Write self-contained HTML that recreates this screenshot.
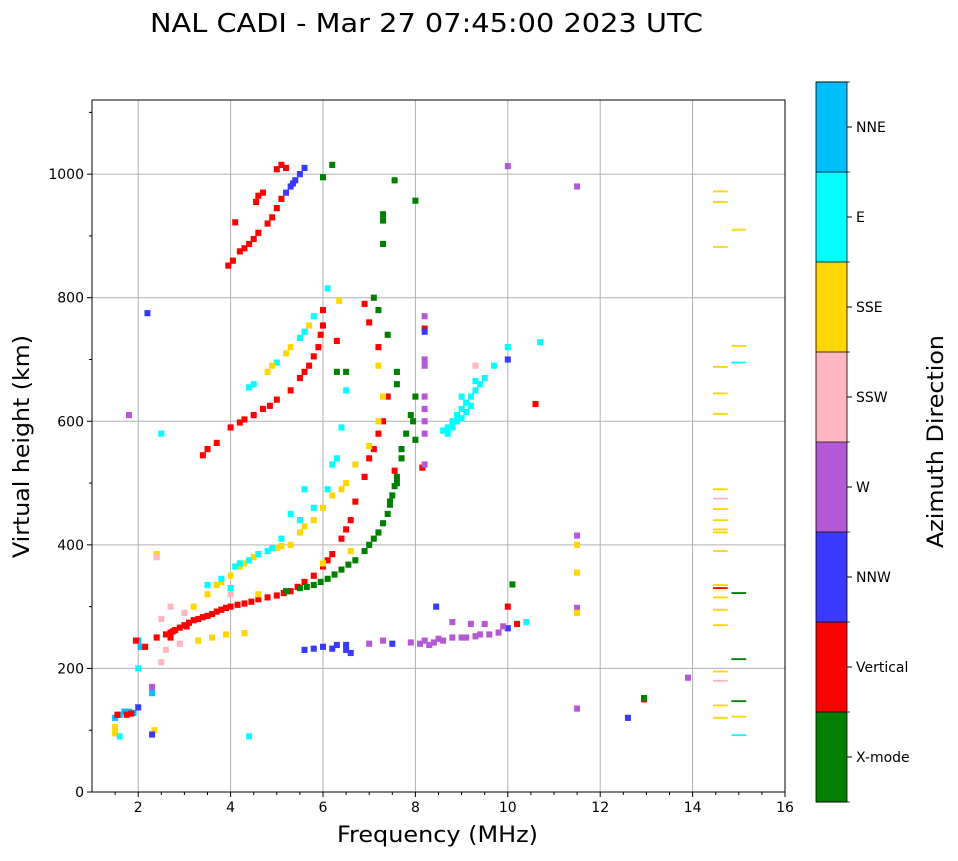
<!DOCTYPE html>
<html><head><meta charset="utf-8"><style>
body{margin:0;background:#fff;font-family:"DejaVu Sans",sans-serif;}
svg text{font-family:"DejaVu Sans","Liberation Sans",sans-serif;}
</style></head><body>
<svg id="chart" width="958" height="857" viewBox="0 0 958 857">
<text x="150" y="32" font-size="26" textLength="553" lengthAdjust="spacingAndGlyphs">NAL CADI - Mar 27 07:45:00 2023 UTC</text>
<g id="grid"></g>
<g id="marks"></g>
<rect x="92" y="100" width="693" height="692" fill="none" stroke="#000" stroke-width="1"/>
<g id="axes"></g>
<text x="337" y="842" font-size="22" textLength="201" lengthAdjust="spacingAndGlyphs">Frequency (MHz)</text>
<text transform="translate(29,558) rotate(-90)" font-size="22" textLength="223" lengthAdjust="spacingAndGlyphs">Virtual height (km)</text>
<g id="cbar"></g>
<text transform="translate(943,548) rotate(-90)" font-size="22" textLength="213" lengthAdjust="spacingAndGlyphs">Azimuth Direction</text>
</svg>
<script>
const xTicks=[2,4,6,8,10,12,14,16];
const yTicks=[0,200,400,600,800,1000];
const categories=["X-mode","Vertical","NNW","W","SSW","SSE","E","NNE"];
const catColors=["#008000","#ff0000","#3a3aff","#b459d6","#ffb6c1","#ffd700","#00ffff","#00bfff"];
// echoes: [freq MHz, height km, category index]
const echoes=[
[3.95,852,1],[4.05,860,1],[4.1,922,1],[4.2,875,1],[4.3,880,1],[4.4,887,1],[4.5,895,1],[4.6,905,1],[4.6,965,1],[4.7,970,1],[4.8,920,1],[4.9,930,1],[5.0,945,1],[5.1,960,1],[5.2,1010,1],[5.1,1015,1],[5.0,1008,1],[4.55,955,1],[5.2,970,2],[5.3,980,2],[5.4,990,2],[5.5,1000,2],[5.6,1010,2],[5.35,985,2],
[3.5,555,1],[3.7,565,1],[4.0,590,1],[4.2,598,1],[4.5,610,1],[4.7,620,1],[4.85,625,1],[5.0,635,1],[5.3,650,1],[5.5,670,1],[5.6,680,1],[5.7,690,1],[5.8,705,1],[5.9,720,1],[5.95,740,1],[6.0,755,1],[6.0,780,1],[6.3,730,1],[3.4,545,1],[4.3,603,1],
[4.5,660,6],[4.8,680,5],[5.0,695,6],[5.3,720,5],[5.5,735,6],[5.7,755,5],[5.8,770,6],[6.1,815,6],[6.35,795,5],[5.2,710,5],[4.4,655,6],[4.9,690,5],[5.6,745,6],
[2.4,250,1],[2.6,255,1],[2.7,258,1],[2.8,262,1],[2.9,266,1],[3.0,270,1],[3.1,274,1],[3.2,278,1],[3.3,280,1],[3.4,283,1],[3.5,285,1],[3.6,288,1],[3.7,292,1],[3.8,295,1],[3.9,298,1],[4.0,300,1],[4.15,303,1],[4.3,305,1],[4.45,308,1],[4.6,312,1],[4.8,315,1],[5.0,318,1],[5.15,322,1],[5.3,325,1],[5.45,332,1],[5.6,340,1],[5.8,350,1],[6.0,365,1],[6.1,375,1],[6.2,385,1],[6.4,410,1],[6.5,425,1],[6.6,440,1],[6.7,470,1],[6.9,510,1],[7.0,540,1],[7.1,555,1],[7.2,580,1],[7.3,600,1],[7.4,640,1],[7.2,720,1],[7.0,760,1],[6.9,790,1],[7.55,520,1],[8.15,525,1],[8.2,750,1],[10.6,628,1],[10.0,300,1],[10.2,272,1],[12.95,150,1],[2.75,260,1],[3.05,268,1],
[5.2,325,0],[5.5,330,0],[5.65,332,0],[5.8,335,0],[5.95,340,0],[6.1,345,0],[6.25,352,0],[6.4,360,0],[6.55,368,0],[6.7,375,0],[6.9,390,0],[7.0,400,0],[7.1,410,0],[7.2,420,0],[7.3,435,0],[7.4,450,0],[7.45,465,0],[7.5,480,0],[7.6,500,0],[7.6,510,0],[7.7,540,0],[7.7,555,0],[7.8,580,0],[7.9,610,0],[8.0,640,0],[7.95,600,0],[7.6,680,0],[7.6,660,0],[7.4,740,0],[7.2,780,0],[7.1,800,0],[6.5,680,0],[6.3,680,0],[6.2,1015,0],[6.0,995,0],[7.55,990,0],[7.3,935,0],[7.3,925,0],[7.3,887,0],[8.0,957,0],[10.1,336,0],[12.95,152,0],[8.0,570,0],[7.45,470,0],[7.55,495,0],
[3.2,300,5],[3.5,320,5],[3.7,335,5],[4.0,350,5],[4.2,365,5],[4.5,380,5],[4.8,390,5],[5.0,395,5],[5.3,400,5],[5.5,420,5],[5.8,440,5],[6.0,460,5],[6.2,480,5],[6.5,500,5],[6.7,530,5],[7.0,560,5],[7.2,600,5],[7.3,640,5],[7.2,690,5],[6.6,390,5],[6.0,370,5],[4.6,320,5],[3.3,245,5],[3.6,250,5],[3.9,255,5],[4.3,257,5],[2.4,385,5],[1.5,105,5],[1.5,95,5],[2.35,100,5],[3.8,340,5],[4.3,370,5],[5.1,398,5],[5.6,430,5],[6.4,490,5],
[3.5,335,6],[3.8,345,6],[4.1,365,6],[4.4,375,6],[4.6,385,6],[4.8,390,6],[5.1,410,6],[5.3,450,6],[5.5,440,6],[5.6,490,6],[5.8,460,6],[6.1,490,6],[6.2,530,6],[6.3,540,6],[6.4,590,6],[6.5,650,6],[4.0,330,6],[4.4,90,6],[1.6,90,6],[2.0,200,6],[2.5,580,6],[4.2,370,6],[4.9,395,6],
[8.7,590,6],[8.6,585,6],[8.8,600,6],[8.9,610,6],[9.0,620,6],[9.0,640,6],[9.1,630,6],[9.2,625,6],[9.2,640,6],[9.3,650,6],[9.4,660,6],[9.5,670,6],[9.7,690,6],[10.0,720,6],[10.7,728,6],[10.4,275,6],[8.7,580,6],[8.8,590,6],[8.9,600,6],[9.0,605,6],[9.1,615,6],[9.3,665,6],
[2.5,280,4],[2.7,300,4],[2.9,240,4],[2.4,380,4],[2.5,210,4],[3.0,290,4],[4.0,320,4],[2.6,230,4],[9.3,690,4],
[1.5,120,7],[1.6,125,7],[1.7,130,7],[1.8,130,7],[1.9,128,7],[2.0,245,7],[2.05,235,7],[2.3,160,7],
[1.55,125,1],[1.75,125,1],[1.85,127,1],[1.95,245,1],[2.15,235,1],[2.7,250,1],
[2.0,137,2],[2.2,775,2],[2.3,93,2],[5.6,230,2],[5.8,232,2],[6.0,235,2],[6.3,238,2],[6.5,230,2],[6.6,225,2],[7.5,240,2],[8.45,300,2],[10.0,700,2],[10.0,265,2],[12.6,120,2],[8.2,745,2],[6.5,238,2],[6.2,232,2],
[1.8,610,3],[2.3,170,3],[7.0,240,3],[7.3,245,3],[7.9,242,3],[8.2,245,3],[8.3,238,3],[8.5,248,3],[8.8,250,3],[9.0,250,3],[9.3,252,3],[9.6,255,3],[9.8,258,3],[8.8,275,3],[9.2,272,3],[9.5,272,3],[9.9,268,3],[8.2,770,3],[8.2,700,3],[8.2,690,3],[8.2,640,3],[8.2,620,3],[8.2,600,3],[8.2,580,3],[8.2,530,3],[11.5,980,3],[11.5,415,3],[11.5,298,3],[11.5,135,3],[13.9,185,3],[10.0,1013,3],[8.1,240,3],[8.6,245,3],[9.1,250,3],[9.4,255,3],[8.4,242,3],
[11.5,400,5],[11.5,355,5],[11.5,290,5],
[14.6,972,5],[14.6,955,5],[14.6,882,5],[14.6,688,5],[14.6,645,5],[14.6,612,5],[14.6,490,5],[14.6,458,5],[14.6,440,5],[14.6,425,5],[14.6,420,5],[14.6,390,5],[14.6,335,5],[14.6,315,5],[14.6,295,5],[14.6,270,5],[14.6,195,5],[14.6,140,5],[14.6,120,5],[14.6,180,4],[14.6,475,4],[14.6,330,1],
[15.0,910,5],[15.0,722,5],[15.0,122,5],[15.0,695,6],[15.0,92,6],[15.0,322,0],[15.0,215,0],[15.0,147,0]
];
const NS="http://www.w3.org/2000/svg";
const X0=92,X1=785,Y0=792,Y1=100,FMIN=1,FMAX=16,HMIN=0,HMAX=1120;
function xs(f){return X0+(f-FMIN)/(FMAX-FMIN)*(X1-X0);}
function ys(h){return Y0-(h-HMIN)/(HMAX-HMIN)*(Y0-Y1);}
function mk(tag,attrs,parent){const e=document.createElementNS(NS,tag);for(const k in attrs)e.setAttribute(k,attrs[k]);parent.appendChild(e);return e;}
const grid=document.getElementById('grid'),axes=document.getElementById('axes'),marks=document.getElementById('marks'),cbar=document.getElementById('cbar');
xTicks.forEach(t=>{const x=xs(t);
 if(t<FMAX){const g=mk('line',{x1:x,x2:x,y1:Y1,y2:Y0,stroke:'#b0b0b0','stroke-width':1},grid);}
 mk('line',{x1:x,x2:x,y1:Y0,y2:Y0+5,stroke:'#000'},axes);
 const tx=mk('text',{x:x,y:Y0+20,'font-size':14,'text-anchor':'middle'},axes);tx.textContent=t;
 
 
});
for(let f=1.5;f<16;f+=0.5){if(f%2!==0)mk('line',{x1:xs(f),x2:xs(f),y1:Y0,y2:Y0+3,stroke:'#000'},axes);}
yTicks.forEach(t=>{const y=ys(t);
 if(t>0){const g=mk('line',{x1:X0,x2:X1,y1:y,y2:y,stroke:'#b0b0b0','stroke-width':1},grid);}
 mk('line',{x1:X0-5,x2:X0,y1:y,y2:y,stroke:'#000'},axes);
 const tx=mk('text',{x:X0-8,y:y+5,'font-size':14,'text-anchor':'end'},axes);tx.textContent=t;
 
 
});
for(let h=100;h<1120;h+=200)mk('line',{x1:X0-3,x2:X0,y1:ys(h),y2:ys(h),stroke:'#000'},axes);
echoes.forEach(p=>{const wide=p[0]>=14;const w=wide?0.32:0.13,hk=wide?3:10;
 const r=mk('rect',{x:xs(p[0]-w/2),y:ys(p[1]+hk/2),width:xs(p[0]+w/2)-xs(p[0]-w/2),height:ys(p[1]-hk/2)-ys(p[1]+hk/2),fill:catColors[p[2]]},marks);
 
 
});
const CT=82,CB=802,CX=816,CW=31,n=categories.length,seg=(CB-CT)/n;
categories.forEach((c,i)=>{const y=CB-(i+1)*seg;
 const r=mk('rect',{x:CX,y:y,width:CW,height:seg+0.5,fill:catColors[i]},cbar);
 
 
 mk('line',{x1:CX+CW,x2:CX+CW+5,y1:y+seg/2,y2:y+seg/2,stroke:'#000'},cbar);
 const t=mk('text',{x:CX+CW+9,y:y+seg/2+5,'font-size':14},cbar);t.textContent=c;
 
 
});
for(let i=0;i<=n;i++){mk('line',{x1:CX,x2:CX+CW+3,y1:CT+i*seg,y2:CT+i*seg,stroke:'#000','stroke-width':0.8},cbar);}
mk('rect',{x:CX,y:CT,width:CW,height:CB-CT,fill:'none',stroke:'#000','stroke-width':0.8},cbar);
</script>
</body></html>
